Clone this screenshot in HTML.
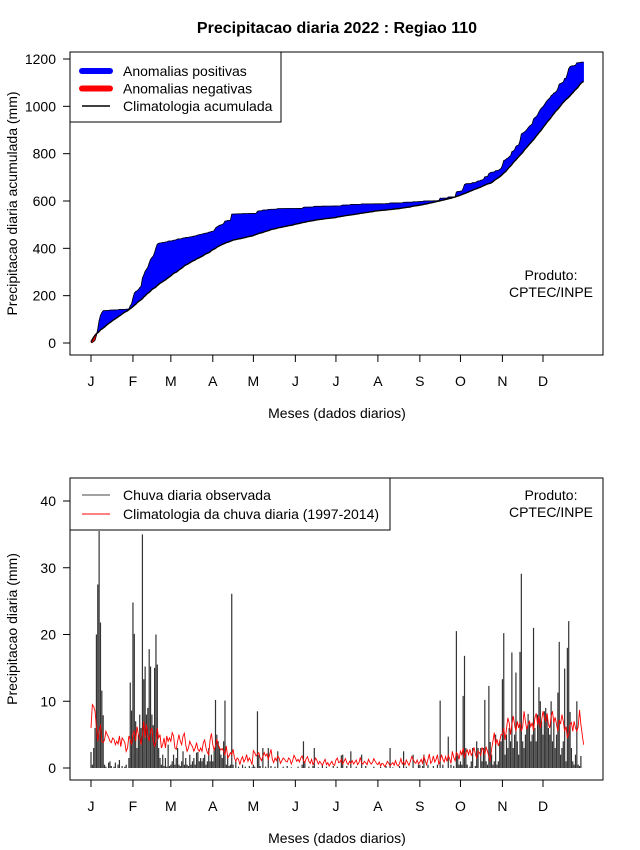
<!DOCTYPE html>
<html><head><meta charset="utf-8"><style>
html,body{margin:0;padding:0;background:#fff;}
svg{display:block;font-family:"Liberation Sans",Arial,sans-serif;}
</style></head><body>
<svg id="chart" width="640" height="850" xmlns="http://www.w3.org/2000/svg">
<rect width="640" height="850" fill="#fff"/>
<text x="337" y="33" text-anchor="middle" font-size="16" font-weight="bold">Precipitacao diaria 2022 : Regiao 110</text>
<g id="top"></g>
<g id="bot"></g>
</svg>
<script>
const monthLabels = ["J","F","M","A","M","J","J","A","S","O","N","D"];
const monthStartDays = [1,32,60,91,121,152,182,213,244,274,305,335];
const topTicks = [0,200,400,600,800,1000,1200];
const botTicks = [0,10,20,30,40];
const obsJan = [2.4,0.5,3,6,20,27.5,35.5,21.8,11.6,7.9,0.5,0.2,0,0.8,1,0.3,0,0.2,0.8,0,0.5,1.2,0,0.3,0,0.2,0.5,0,1.5,12.8,8.6];
const obsFeb = [24.8,20.1,7,3,5,8,6,35,13.3,15.2,8,9,17.8,15.2,8,6.4,15,20,15.5,3,1.5,0.5,2,0.3,1.5,0.2,3.5,0.3];
const obsMar = [0.5,1,2,0.5,1.5,3,0.5,0.3,1,2.5,0.5,1.5,0.5,0.3,2,0.5,1,1.5,0.5,2.3,2.4,1,1.5,1,1.5,2,0.5,1,3,1,2];
const obsApr = [1,3,10.2,5,4,3,2,1.5,4,10.1,0.5,2,0.3,0.5,26.1,0.5,0,1,0,0.2,0,0,0.5,0,0.2,0,0,0.3,0,0.1];
const obsMay = [0.5,0.2,0,8.5,2,0.3,0,3,0,0.2,0,3,0,0.3,0,0,0.2,0,2.5,0,0,0,0.2,0,0,0.3,0,0,0.1,0,0];
const obsJun = [0,0,0.2,0,0,0.5,4,1,0,0,0.2,0,0,0.3,3,0,0,0.1,0,0,0.5,0,0,0.2,0,0,0,0,0.3,0];
const obsJul = [0,0.2,0,0,1.9,2,0,0,0.3,0,0,2.5,0,0,0,0.2,0,0,0,2,0,0,0.3,0,0,0,0,0,0.2,0,0];
const obsAug = [0,0,0.2,0,0,0,0.3,0,0,3,0,0.1,0,0,0,0,0.3,0,0,2.5,0,0.2,0,0,0,0,2,0,0,0,0.5];
const obsSep = [0.5,0,0.3,2,0,0,0.5,0,0,0,0.3,0,0,0.5,0,10.1,0,0.5,0,0,0,4.7,0,0.5,0,0.3,0,20.5,2,0.5];
const obsOct = [1,0.5,10.8,16.8,3,0.5,0,0.2,1,3,0,0.3,4,3,0,3,1,3,10.2,1,0.5,12.3,3.9,2,0.5,1,5,0.5,1,4,4];
const obsNov = [13.3,20.2,2,5,3,6,4,17.3,3,5,14.3,4,2,17.4,29.1,4,3,5,6,8.1,7,4,5,21,6,4,8,12.1,10,7];
const obsDec = [5,8.5,9,8,6,5,10,4,7,3,5,11.3,18.9,2,3,4,14.9,1,18,22,8.4,3,1,0.5,2,10,0.5,0.3,1.8,0,0];
const climJan = [6,9.5,9.2,8.5,6,4,5.5,6.5,4,3.8,4.2,5.5,5,4.6,4,3.8,4.5,4.3,3.5,4,3.6,4.8,3.2,4.5,4.2,3.8,2.5,3,4.8,4.2,3.5];
const climFeb = [5.2,5.5,4,6.2,5,4.5,3.5,5,7,4.5,6.5,4.8,4,5.5,6,4,3.2,4,6,4.5,5,3,3.5,4.5,3,4.8,4,4.5];
const climMar = [4,5.3,4.8,3,2.8,4,5,4,3.5,4.8,5.2,3.5,2.5,3,4,3.5,3.2,2.5,3,3.8,2.8,2.5,3,2.5,3.8,4.2,3,2.3,2,4.2,5.2];
const climApr = [3.5,2.7,3.3,4.3,3.5,3,2.7,2.9,2.5,2,3.3,1.5,1.8,2.3,2,2.8,1.5,1,1.5,1.3,0.5,1.3,1.7,0.9,1.3,2,1,1.5,1.1,0.5];
const climMay = [2.6,2.3,1.8,2.1,2.3,1.5,1.1,1.7,2.3,1.8,2.1,1.3,2,2.8,1.3,0.8,1.5,1.1,1.8,1.5,0.7,1.1,1.5,1.3,1,0.9,1.5,1.3,0.6,1.1,1.9];
const climJun = [1.5,1,1.3,0.9,1.5,1.8,1.1,0.8,1.4,1.7,1,0.7,1.3,0.5,0.9,1.5,1.1,0.6,1,0.7,0.4,0.9,1.3,0.5,0.8,0.3,0.7,1,0.5,0.4];
const climJul = [1.2,1.5,0.8,0.9,1.3,0.6,1,1.4,0.8,0.5,1,0.7,1.1,0.6,0.9,1.2,0.5,0.8,1.6,0.7,0.6,1,0.8,0.5,1.3,0.9,0.6,0.8,1.4,1,0.7];
const climAug = [0.5,0.9,0.3,0.7,0.6,0.2,0.5,1,0.7,0.3,0.6,0.8,0.4,1.1,0.5,0.3,0.7,1.4,0.6,0.9,0.5,1.2,0.8,0.4,1,1.7,1.3,0.9,0.7,1.2,0.6];
const climSep = [0.9,1.3,0.7,1.7,1.1,0.5,1.3,2.1,0.7,1,1.8,0.9,1.3,2,0.6,1.1,2,1.3,0.9,1.7,1,1.9,1.4,0.7,2.5,1.6,1.1,2.3,2.1,1.3];
const climOct = [2.5,2,3,1.5,2.3,2.7,2,2.8,1.9,2.3,3.1,2.1,1.5,2.5,2.3,1.9,3,2.7,2.1,3.1,2.5,1.7,1,2.8,4,5.3,3.5,4.3,3.3,4,5];
const climNov = [5,6,4.2,5.8,7.5,6.8,5,6.5,7.8,6.5,5.5,7,6,6.8,5.5,6.2,8.5,7,5.8,6.6,7,6.2,6.8,5.6,7.5,8.2,6.5,7.8,6,7.2];
const climDec = [8.5,7.5,7,8.2,6.5,6,7.8,8.5,6.8,7.6,6.5,5.5,7.2,6.6,8,7,5.5,6.2,4.5,5,6.5,6.8,5.5,7,6,5.5,6.2,8.7,6.5,5,3.5];

const obs = [].concat(obsJan,obsFeb,obsMar,obsApr,obsMay,obsJun,obsJul,obsAug,obsSep,obsOct,obsNov,obsDec);
const clim = [].concat(climJan,climFeb,climMar,climApr,climMay,climJun,climJul,climAug,climSep,climOct,climNov,climDec);
const NS="http://www.w3.org/2000/svg";
function mk(parent,tag,attrs){const e=document.createElementNS(NS,tag);for(const k in attrs)e.setAttribute(k,attrs[k]);parent.appendChild(e);return e;}
function xDay(d){return 91+(d-1)*(543-91)/334;}
const L=70,R=603;
function frame(g,top,bot,yScale,ticks,legendBox,yTitle,prodY,panel){
  const box=mk(g,'rect',{x:L,y:top,width:R-L,height:bot-top,fill:'none',stroke:'#000','stroke-width':1});
  
  
  ticks.forEach(v=>{const y=yScale(v);
    const t=mk(g,'line',{x1:63,x2:L,y1:y,y2:y,stroke:'#000'});
    
    
    const tx=mk(g,'text',{x:56,y:y+5,'text-anchor':'end','font-size':14});tx.textContent=v;
    
    
  });
  monthStartDays.forEach((d,i)=>{const x=xDay(d);
    const t=mk(g,'line',{x1:x,x2:x,y1:bot,y2:bot+7,stroke:'#000'});
    
    
    const tx=mk(g,'text',{x:x,y:bot+31,'text-anchor':'middle','font-size':14});tx.textContent=monthLabels[i];
    
    
  });
  const xt=mk(g,'text',{x:337,y:bot+63,'text-anchor':'middle','font-size':14});xt.textContent='Meses (dados diarios)';
  
  
  const cy=(top+bot)/2;
  const yt=mk(g,'text',{x:17,y:cy,'text-anchor':'middle','font-size':14,transform:'rotate(-90 17 '+cy+')'});yt.textContent=yTitle;
  
  
  const p1=mk(g,'text',{x:551,y:prodY,'text-anchor':'middle','font-size':14});p1.textContent='Produto:';
  
  
  const p2=mk(g,'text',{x:551,y:prodY+17,'text-anchor':'middle','font-size':14});p2.textContent='CPTEC/INPE';
  
  
}
// TOP
const gt=document.getElementById('top');
const yTop=v=>343-v*(343-59)/1200;
const cumObs=[],cumClim=[];let a=0,b=0;
for(let i=0;i<obs.length;i++){a+=obs[i];b+=clim[i];cumObs.push(a);cumClim.push(b);}
const fills=mk(gt,'g',{});


for(let i=0;i<cumObs.length-1;i++){
  const x0=xDay(i+1),x1=xDay(i+2);
  const o0=cumObs[i],o1=cumObs[i+1],c0=cumClim[i],c1=cumClim[i+1];
  const col=(o0+o1)>=(c0+c1)?'#0000ff':'#ff0000';
  const q=mk(fills,'polygon',{points:`${x0},${yTop(o0)} ${x1},${yTop(o1)} ${x1},${yTop(c1)} ${x0},${yTop(c0)}`,fill:col,stroke:col,'stroke-width':0.6});
  
  
}
const po=mk(gt,'polyline',{points:cumObs.map((v,i)=>xDay(i+1)+','+yTop(v)).join(' '),fill:'none',stroke:'#000','stroke-width':0.8});


const pc=mk(gt,'polyline',{points:cumClim.map((v,i)=>xDay(i+1)+','+yTop(v)).join(' '),fill:'none',stroke:'#000','stroke-width':1.4});


frame(gt,52,355,yTop,topTicks,null,'Precipitacao diaria acumulada (mm)',280,'top');
const lg=mk(gt,'g',{});


mk(lg,'rect',{x:L,y:52,width:211,height:70,fill:'#fff',stroke:'#000'});
[['#0000ff',6,'Anomalias positivas'],['#ff0000',6,'Anomalias negativas'],['#000',1.5,'Climatologia acumulada']].forEach((e,i)=>{
  const y=71+i*17.5;
  const ln=mk(lg,'line',{x1:82,x2:110,y1:y,y2:y,stroke:e[0],'stroke-width':e[1],'stroke-linecap':e[1]>2?'round':'butt'});
  
  
  const t=mk(lg,'text',{x:123,y:y+5,'font-size':14});t.textContent=e[2];
  
  
});
// BOTTOM
const gb=document.getElementById('bot');
const yBot=v=>768-v*(768-501)/40;
const bars=mk(gb,'g',{});


obs.forEach((v,i)=>{const x=xDay(i+1);
  const l=mk(bars,'line',{x1:x,x2:x,y1:yBot(0),y2:yBot(v),stroke:'#333','stroke-width':1.2});
  
  
});
const cl=mk(gb,'polyline',{points:clim.map((v,i)=>xDay(i+1)+','+yBot(v)).join(' '),fill:'none',stroke:'#ff0000','stroke-width':0.9});


frame(gb,478,780,yBot,botTicks,null,'Precipitacao diaria (mm)',500,'bottom');
const lb=mk(gb,'g',{});


mk(lb,'rect',{x:L,y:478,width:320,height:52,fill:'#fff',stroke:'#000'});
[['#444','Chuva diaria observada'],['#ff0000','Climatologia da chuva diaria (1997-2014)']].forEach((e,i)=>{
  const y=495+i*19;
  const ln=mk(lb,'line',{x1:82,x2:110,y1:y,y2:y,stroke:e[0],'stroke-width':1});
  
  
  const t=mk(lb,'text',{x:123,y:y+5,'font-size':14});t.textContent=e[1];
  
  
});
</script>
</body></html>
